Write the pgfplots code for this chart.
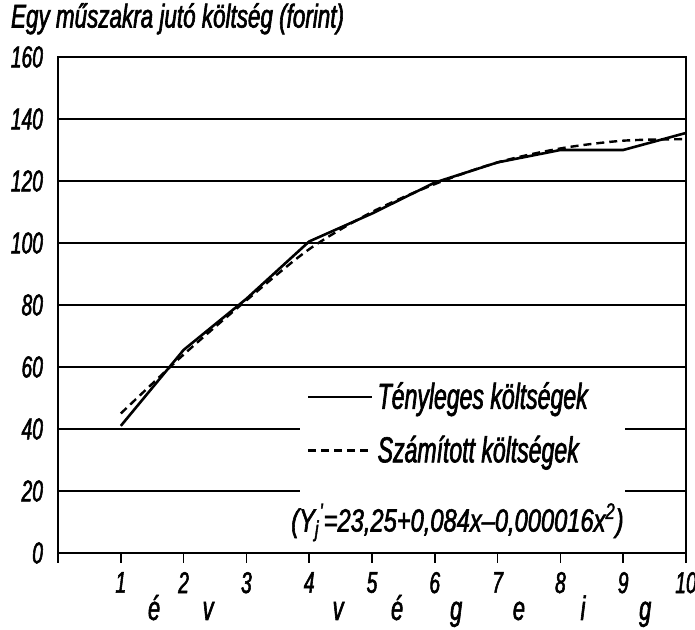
\documentclass[border=0pt]{standalone}
\usepackage{fontspec}
\setmainfont{Liberation Sans}[FakeStretch=0.8, FakeBold=1.5]
\newfontfamily\titlef{Liberation Sans}[FakeStretch=0.68, FakeBold=1.8]
\newfontfamily\numf{Liberation Sans}[FakeStretch=0.64, FakeBold=1.8]
\newfontfamily\legf{Liberation Sans}[FakeStretch=0.64, FakeBold=1.8]
\newfontfamily\formf{Liberation Sans}[FakeStretch=0.74, FakeBold=1.8]
\usepackage{pgfplots}
\pgfplotsset{compat=1.18}
\newcommand\numfont{\numf\itshape\fontsize{15}{17}\selectfont}
\newcommand\titlefont{\titlef\itshape\fontsize{16.5}{18}\selectfont}
\newcommand\legfont{\legf\itshape\fontsize{18}{20}\selectfont}
\newcommand\formfont{\formf\itshape\fontsize{16}{18}\selectfont}
\newcommand\letfont{\numf\itshape\fontsize{17}{19}\selectfont}
\begin{document}
\itshape
\begin{tikzpicture}[font=\numfont]
\begin{axis}[name=ax, at={(0,0)}, anchor=south west,
 scale only axis, width=314pt, height=248pt,
 xmin=0, xmax=10, ymin=0, ymax=160,
 xtick={0,...,10}, xticklabels={,1,2,3,4,5,6,7,8,9,10},
 ytick={0,20,...,160},
 ymajorgrids, grid style={black, line width=0.7pt},
 tick align=outside, xtick pos=bottom, ytick pos=left, major tick length=5pt,
 ytick style={draw=none},
 xtick style={black, line width=0.8pt},
 axis line style={line width=1pt},
 /pgf/number format/assume math mode=true,
 ticklabel style={font=\numfont},
 xticklabel style={yshift=-1pt},
 yticklabel style={xshift=1pt},
 clip=false,
 legend style={at={(axis cs:3.96,56.5)}, anchor=north west, draw=none, fill=none,
   inner sep=0pt, row sep=8pt, font=\legfont,
   /tikz/every odd column/.append style={column sep=0pt}},
 legend cell align=left,
 legend image code/.code={\draw[#1] (0pt,0pt) -- (32pt,0pt);},
]
\fill[white] (axis cs:3.85,2.6) rectangle (axis cs:9.03,55.8);
\addplot[black, line width=1.3pt] coordinates {
 (1,41) (2,65.5) (3,82) (4,100.5) (5,109.5) (6,119.5) (7,126) (8,130) (9,130) (10,135.5)};
\addlegendentry{Tényleges költségek}
\addplot[black, line width=1.2pt, dash pattern=on 4pt off 2.5pt, smooth] coordinates {
 (1,45) (2,64) (3,81.5) (4,98) (5,110) (6,119) (7,126) (8,130.5) (9,133) (10,133.5)};
\addlegendentry{Számított költségek}
\node[font=\formfont] at (axis cs:6.36,9.9) {(Y\textsubscript{j}\textsuperscript{'}=23,25+0,084x–0,000016x\textsuperscript{2})};
\node[anchor=base west, font=\titlefont] at (axis cs:-0.86,169.5) {Egy műszakra jutó költség (forint)};
\node[anchor=base, font=\letfont] at (axis cs:1.53,-21.6) {é};
\node[anchor=base, font=\letfont] at (axis cs:2.39,-21.6) {v};
\node[anchor=base, font=\letfont] at (axis cs:4.46,-21.6) {v};
\node[anchor=base, font=\letfont] at (axis cs:5.40,-21.6) {é};
\node[anchor=base, font=\letfont] at (axis cs:6.34,-21.6) {g};
\node[anchor=base, font=\letfont] at (axis cs:7.34,-21.6) {e};
\node[anchor=base, font=\letfont] at (axis cs:8.36,-21.6) {i};
\node[anchor=base, font=\letfont] at (axis cs:9.35,-21.6) {g};
\end{axis}
\pgfresetboundingbox
\path ([xshift=-29pt,yshift=-38.5pt]ax.south west) rectangle ([xshift=4.5pt,yshift=28.5pt]ax.north east);
\end{tikzpicture}
\end{document}
